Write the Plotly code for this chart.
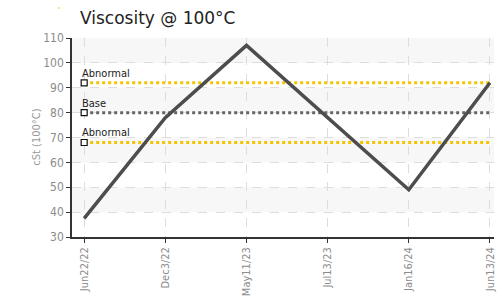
import plotly.graph_objects as go

dates = ["Jun22/22", "Dec3/22", "May11/23", "Jul13/23", "Jan16/24", "Jun13/24"]
values = [37.5, 78, 107, 78, 49, 92]
ref_names = ["Abnormal", "Base", "Abnormal"]
ref_values = [92, 80, 68]
ref_colors = ["#f5c400", "#666666", "#f5c400"]
bands = [(40, 50), (60, 70), (80, 90), (100, 110)]

xs = list(range(len(dates)))
fig = go.Figure()

for lo, hi in bands:
    fig.add_shape(type="rect", xref="paper", yref="y", x0=0, x1=1, y0=lo, y1=hi,
                  fillcolor="#f7f7f7", line_width=0, layer="below")

# tiny accent dot at top-left
fig.add_shape(type="circle", xref="paper", yref="paper", x0=-0.0335, x1=-0.0295,
              y0=1.147, y1=1.155, fillcolor="#f5b800", line_width=0)

for name, v, c in zip(ref_names, ref_values, ref_colors):
    fig.add_trace(go.Scatter(x=[xs[0], xs[-1]], y=[v, v], mode="lines",
                             line=dict(color=c, width=3, dash="dot"), hoverinfo="skip"))
    fig.add_trace(go.Scatter(x=[xs[0]], y=[v], mode="markers",
                             marker=dict(symbol="square", size=6, color="white",
                                         line=dict(color="#111", width=1.2)),
                             hoverinfo="skip"))
    fig.add_annotation(x=xs[0], y=v, text=name, showarrow=False, xanchor="left",
                       yanchor="bottom", xshift=-4, yshift=1,
                       font=dict(family="DejaVu Sans Condensed", size=11, color="#222"))

fig.add_trace(go.Scatter(x=xs, y=values, mode="lines",
                         line=dict(color="#4d4d4d", width=3.5)))

fig.add_annotation(xref="paper", yref="paper", x=-0.085, y=0.5, text="cSt (100°C)",
                   textangle=-90, showarrow=False, xanchor="center", yanchor="middle",
                   font=dict(family="DejaVu Sans Condensed", size=11, color="#999"))

fig.update_layout(
    width=503, height=298, showlegend=False,
    margin=dict(l=72, r=9, t=38, b=61),
    plot_bgcolor="white", paper_bgcolor="white",
    title=dict(text="Viscosity @ 100°C", x=0.159, xanchor="left", y=0.94, yanchor="middle",
               font=dict(family="DejaVu Sans", size=17, color="#222")),
    font=dict(family="DejaVu Sans Condensed", color="#999"),
)
fig.update_xaxes(
    tickmode="array", tickvals=xs, ticktext=dates, tickangle=-90,
    range=[-0.15, 5.05], showline=True, linecolor="#333", linewidth=1.5,
    ticks="outside", ticklen=4, tickcolor="#333", automargin=False,
    showgrid=True, gridcolor="#dddddd", griddash="dash", gridwidth=1,
    tickfont=dict(size=11, color="#8c8c8c"), zeroline=False,
)
fig.update_yaxes(
    range=[30, 110], dtick=10, showline=True, linecolor="#333", linewidth=1.5,
    ticks="outside", ticklen=4, tickcolor="#333", automargin=False,
    showgrid=True, gridcolor="#dddddd", griddash="dash", gridwidth=1,
    tickfont=dict(size=12, color="#8c8c8c"), zeroline=False,
)
fig.write_html("out.html", config={"displayModeBar": False},
               post_script="document.body.style.margin='0';document.body.style.overflow='hidden';")
